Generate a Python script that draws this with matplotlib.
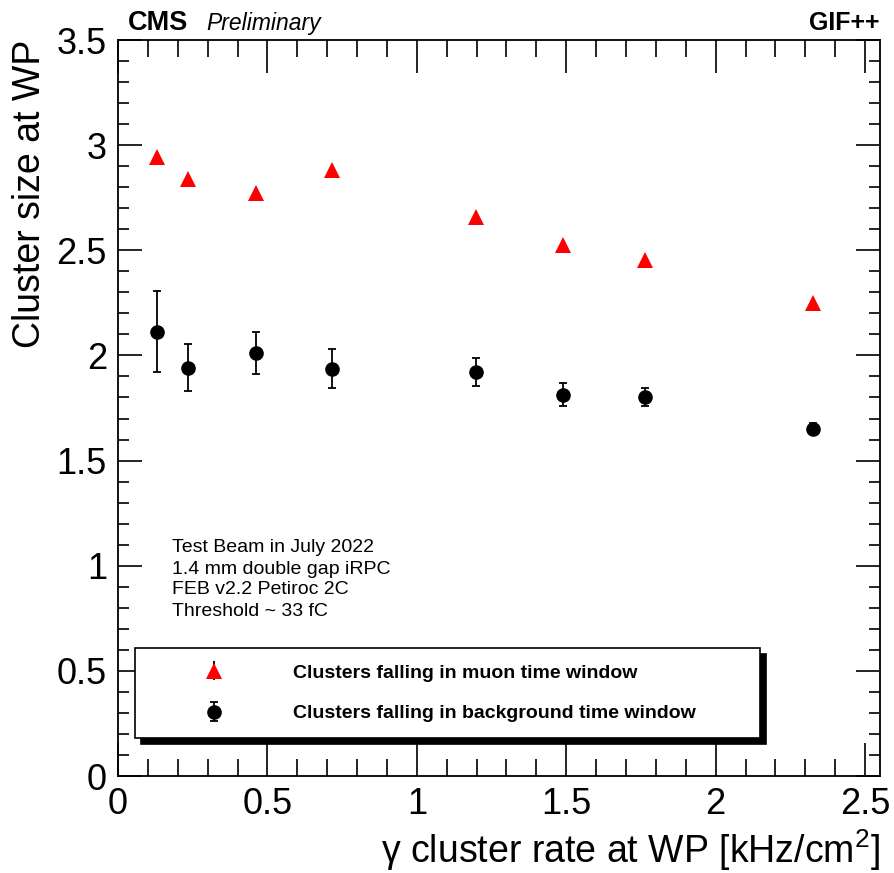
import matplotlib
matplotlib.use("Agg")
import matplotlib.pyplot as plt
from matplotlib.ticker import MultipleLocator, FormatStrFormatter

rate = [0.131, 0.235, 0.462, 0.716, 1.197, 1.488, 1.765, 2.326]
cs_muon = [2.943, 2.838, 2.771, 2.882, 2.659, 2.525, 2.452, 2.251]
cs_muon_err = [0.02, 0.02, 0.02, 0.02, 0.015, 0.015, 0.015, 0.01]
cs_bkg = [2.113, 1.941, 2.010, 1.937, 1.921, 1.814, 1.801, 1.652]
cs_bkg_err = [0.193, 0.112, 0.100, 0.092, 0.066, 0.053, 0.042, 0.025]

info_lines = ["Test Beam in July 2022", "1.4 mm double gap iRPC",
              "FEB v2.2 Petiroc 2C", "Threshold ~ 33 fC"]
leg_labels = ["Clusters falling in muon time window",
              "Clusters falling in background time window"]

SANS = ["Liberation Sans", "DejaVu Sans"]
plt.rcParams['font.family'] = SANS
plt.rcParams['mathtext.fontset'] = 'custom'
plt.rcParams['mathtext.rm'] = 'Liberation Sans'
plt.rcParams['mathtext.it'] = 'Liberation Sans:italic'

fig = plt.figure(figsize=(8.94, 8.73), dpi=100)
ax = fig.add_axes([118/894, 1-776/873, (880-118)/894, (776-40)/873])

h1 = ax.errorbar(rate, cs_muon, yerr=cs_muon_err, fmt='^', color='#ff0000',
                 ecolor='black', markersize=11, capsize=3, elinewidth=1.3,
                 markeredgewidth=0, zorder=3)
h2 = ax.errorbar(rate, cs_bkg, yerr=cs_bkg_err, fmt='o', color='black',
                 ecolor='black', markersize=9.5, capsize=3, elinewidth=1.3,
                 capthick=1.3, zorder=3)

ax.set_xlim(0, 2.55)
ax.set_ylim(0, 3.5)
ax.xaxis.set_major_locator(MultipleLocator(0.5))
ax.xaxis.set_minor_locator(MultipleLocator(0.1))
ax.yaxis.set_major_locator(MultipleLocator(0.5))
ax.yaxis.set_minor_locator(MultipleLocator(0.1))
ax.xaxis.set_major_formatter(FormatStrFormatter('%g'))
ax.yaxis.set_major_formatter(FormatStrFormatter('%g'))
ax.tick_params(which='both', direction='in', top=True, right=True, width=1.2)
ax.tick_params(axis='x', which='major', length=24, labelsize=26, pad=8)
ax.tick_params(axis='x', which='minor', length=12)
ax.tick_params(axis='y', which='major', length=17, labelsize=26, pad=8)
ax.tick_params(axis='y', which='minor', length=8)
for sp in ax.spines.values():
    sp.set_linewidth(1.3)

ax.set_xlabel("γ cluster rate at WP [kHz/cm$^{2}$]", fontsize=27,
              loc='right', labelpad=4)
ax.set_ylabel("Cluster size at WP", fontsize=27, loc='top', labelpad=6)

fig.text(128/894, 1-30/873, "CMS", fontsize=19.5, fontweight='bold',
         ha='left', va='baseline')
fig.text(206/894, 1-30/873, "Preliminary", fontsize=16.5, fontstyle='italic',
         ha='left', va='baseline')
fig.text(880/894, 1-30/873, "GIF++", fontsize=18, fontweight='bold',
         ha='right', va='baseline')

for i, line in enumerate(info_lines):
    ax.text((172-118)/762, (776-548-i*21)/736, line, transform=ax.transAxes,
            fontsize=14, ha='left', va='center')

leg = ax.legend([h1, h2], leg_labels, loc='lower left',
                bbox_to_anchor=((135-118)/762, (776-738)/736, (760-135)/762, (738-648)/736),
                mode='expand', borderaxespad=0, fancybox=False, frameon=True,
                edgecolor='black', framealpha=1,
                shadow={'ox': 4, 'oy': -4, 'facecolor': 'black',
                        'edgecolor': 'black', 'alpha': 1},
                prop={'weight': 'bold', 'size': 14},
                handletextpad=0.85, borderpad=0.8, labelspacing=1.2,
                handlelength=6.5)
leg.get_frame().set_linewidth(1.2)

fig.savefig("out.png", dpi=100)
